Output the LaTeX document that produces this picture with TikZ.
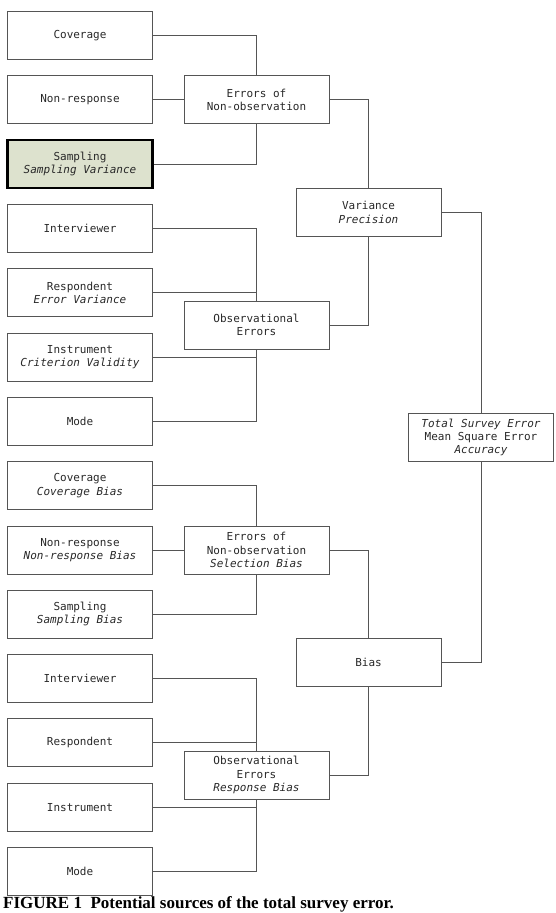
\documentclass[tikz,border=0pt]{standalone}
\usepackage{fontspec}
\setmonofont{DejaVu Sans Mono}
\newfontfamily\capfont{Liberation Serif}
\usetikzlibrary{calc}

\definecolor{linegray}{RGB}{85,85,85}
\definecolor{textgray}{RGB}{40,40,40}
\definecolor{sampfill}{RGB}{221,226,206}

\tikzset{
  errbox/.style={draw=linegray, line width=0.8pt, minimum width=145pt, minimum height=48pt,
    inner sep=0pt, align=center, text=textgray, font=\ttfamily\fontsize{11}{13.3}\selectfont},
  keybox/.style={errbox, draw=black, line width=2.4pt, fill=sampfill},
  link/.style={draw=linegray, line width=0.8pt}
}

\begin{document}
\begin{tikzpicture}[x=1pt, y=-1pt]
    \useasboundingbox (0,0) rectangle (556,913);

    % Variance side: sources
    \node[errbox] (cov1) at (80,35.5) {Coverage};
    \node[errbox] (nr1) at (80,99.8) {Non-response};
    \node[keybox] (samp1) at (80,164.1) {Sampling\\\itshape Sampling Variance};
    \node[errbox] (int1) at (80,228.4) {Interviewer};
    \node[errbox] (resp1) at (80,292.7) {Respondent\\\itshape Error Variance};
    \node[errbox] (inst1) at (80,357) {Instrument\\\itshape Criterion Validity};
    \node[errbox] (mode1) at (80,421.3) {Mode};

    % Bias side: sources
    \node[errbox] (cov2) at (80,485.6) {Coverage\\\itshape Coverage Bias};
    \node[errbox] (nr2) at (80,549.9) {Non-response\\\itshape Non-response Bias};
    \node[errbox] (samp2) at (80,614.2) {Sampling\\\itshape Sampling Bias};
    \node[errbox] (int2) at (80,678.5) {Interviewer};
    \node[errbox] (resp2) at (80,742.8) {Respondent};
    \node[errbox] (inst2) at (80,807.1) {Instrument};
    \node[errbox] (mode2) at (80,871.4) {Mode};

    % Error groups
    \node[errbox] (nonobs1) at (256.5,99.8) {Errors of\\Non-observation};
    \node[errbox] (obs1) at (256.5,324.9) {Observational\\Errors};
    \node[errbox] (nonobs2) at (256.5,549.9) {Errors of\\Non-observation\\\itshape Selection Bias};
    \node[errbox] (obs2) at (256.5,775) {Observational\\Errors\\\itshape Response Bias};

    % Variance and bias
    \node[errbox] (var) at (368.5,212.4) {Variance\\\itshape Precision};
    \node[errbox] (bias) at (368.5,662.5) {Bias};

    % Total
    \node[errbox] (tse) at (481,437.5) {\itshape Total Survey Error\\Mean Square Error\\\itshape Accuracy};

    % Connectors, variance side
    \draw[link] (cov1.east) -| (nonobs1.north);
    \draw[link] (nr1.east) -- (nonobs1.west);
    \draw[link] (samp1.east) -| (nonobs1.south);
    \draw[link] (int1.east) -| (obs1.north);
    \draw[link] (resp1.east) -| (obs1.north);
    \draw[link] (inst1.east) -| (obs1.south);
    \draw[link] (mode1.east) -| (obs1.south);
    \draw[link] (nonobs1.east) -| (var.north);
    \draw[link] (obs1.east) -| (var.south);

    % Connectors, bias side
    \draw[link] (cov2.east) -| (nonobs2.north);
    \draw[link] (nr2.east) -- (nonobs2.west);
    \draw[link] (samp2.east) -| (nonobs2.south);
    \draw[link] (int2.east) -| (obs2.north);
    \draw[link] (resp2.east) -| (obs2.north);
    \draw[link] (inst2.east) -| (obs2.south);
    \draw[link] (mode2.east) -| (obs2.south);
    \draw[link] (nonobs2.east) -| (bias.north);
    \draw[link] (obs2.east) -| (bias.south);

    % Into the total
    \draw[link] (var.east) -| (tse.north);
    \draw[link] (bias.east) -| (tse.south);

    % Caption
    \node[anchor=base west, inner sep=0pt, font=\capfont\bfseries\fontsize{17}{20}\selectfont] (caption) at (3,908.8)
        {FIGURE 1\ \ Potential sources of the total survey error.};
\end{tikzpicture}
\end{document}
